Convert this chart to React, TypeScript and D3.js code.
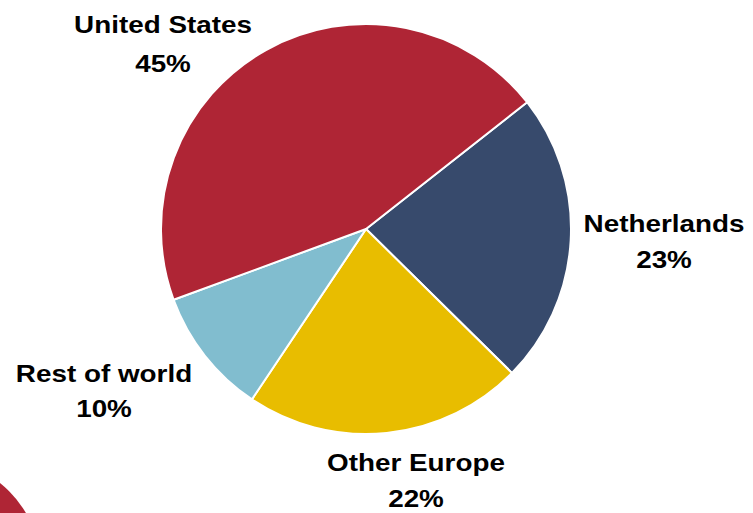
import React from "react";
import * as d3 from "d3";

const categories = ["Netherlands", "Other Europe", "Rest of world", "United States"];
const shares = [23, 22, 10, 45];
const colors = ["#374A6C", "#E8BD00", "#81BDCF", "#AF2535"];
// label anchors (center x, first baseline, second baseline)
const labelPos = [
  [664, 232, 268],
  [416, 471, 507],
  [104, 382, 417],
  [163, 33, 72],
];

const W = 753;
const H = 513;
const cx = 366;
const cy = 229;
const R = 205;
const start = (51.8 * Math.PI) / 180;

export default function App() {
  const pie = d3
    .pie<number>()
    .sort(null)
    .value((d) => d)
    .startAngle(start)
    .endAngle(start + 2 * Math.PI);
  const arcs = pie(shares);
  const arc = d3.arc<d3.PieArcDatum<number>>().innerRadius(0).outerRadius(R);

  return (
    <svg
      width={W}
      height={H}
      style={{ position: "absolute", left: 0, top: 0, background: "#fff" }}
      fontFamily="'Liberation Sans', Arial, sans-serif"
    >
      <circle cx={-70} cy={570} r={111.6} fill="#AF2535" />
      <g transform={`translate(${cx},${cy})`}>
        {arcs.map((a, i) => (
          <path key={i} d={arc(a) || ""} fill={colors[i]} stroke="#fff" strokeWidth={2} strokeLinejoin="round" />
        ))}
      </g>
      {categories.map((c, i) => {
        const [x, y1, y2] = labelPos[i];
        return (
          <g key={c} fontWeight="bold" fontSize={24} fill="#000" textAnchor="middle">
            <text transform={`translate(${x},${y1}) scale(1.16,1)`}>{c}</text>
            <text transform={`translate(${x},${y2}) scale(1.16,1)`}>{shares[i]}%</text>
          </g>
        );
      })}
    </svg>
  );
}
